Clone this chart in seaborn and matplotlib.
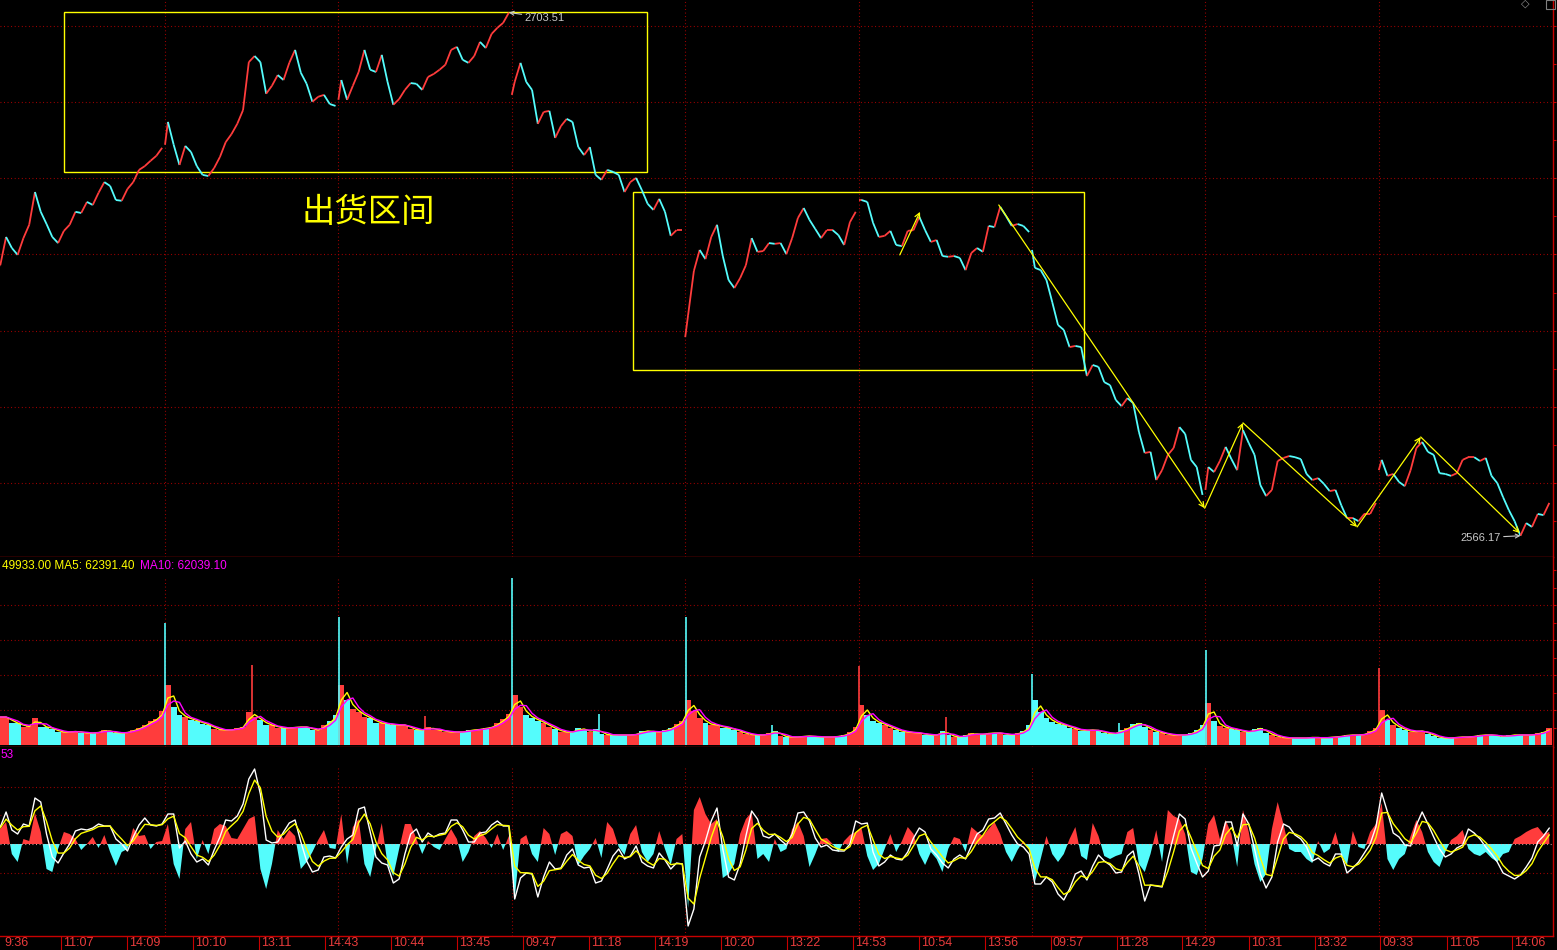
import matplotlib
matplotlib.use("Agg")
import numpy as np
import pandas as pd
import matplotlib.pyplot as plt
import matplotlib.transforms as mtransforms
from matplotlib.collections import LineCollection
from matplotlib.patches import Rectangle
import seaborn as sns

# 8-minute blocks, 30 blocks per session, 9 sessions
close = [
    2636.5, 2637.2, 2644.6, 2641.7, 2639.9, 2644.3, 2647.8, 2656.4, 2651.2, 2648.0,
    2644.6, 2643.0, 2646.2, 2647.8, 2651.2, 2650.9, 2653.8, 2653.0, 2656.2, 2659.0,
    2658.0, 2654.3, 2654.1, 2657.2, 2659.0, 2662.2, 2663.2, 2664.6, 2665.9, 2668.0,
    2674.8, 2668.8, 2663.5, 2668.5, 2666.9, 2663.2, 2660.9, 2660.6, 2662.7, 2665.6,
    2669.5, 2671.6, 2674.3, 2677.9, 2690.5, 2692.1, 2690.5, 2682.2, 2684.3, 2687.1,
    2685.8, 2690.3, 2693.7, 2687.7, 2684.8, 2680.1, 2681.4, 2681.9, 2679.5, 2679.0,
    2685.8, 2680.6, 2684.3, 2687.9, 2693.7, 2688.5, 2687.9, 2692.4, 2685.3, 2679.3,
    2680.8, 2683.2, 2685.0, 2684.8, 2683.2, 2686.6, 2687.4, 2688.5, 2689.8, 2693.7,
    2694.5, 2691.1, 2690.3, 2692.1, 2695.8, 2694.2, 2697.9, 2699.5, 2700.8, 2703.51,
    2685.3, 2690.3, 2685.3, 2683.2, 2674.3, 2677.4, 2677.7, 2670.6, 2673.7, 2675.6,
    2674.8, 2668.2, 2666.1, 2668.2, 2660.9, 2659.6, 2662.2, 2661.7, 2660.9, 2656.4,
    2659.0, 2660.1, 2656.9, 2653.3, 2651.7, 2654.6, 2651.2, 2644.9, 2646.4, 2646.4,
    2624.1, 2635.7, 2641.2, 2638.8, 2644.6, 2647.8, 2639.6, 2633.3, 2631.2, 2633.8,
    2637.2, 2644.3, 2640.7, 2640.9, 2643.0, 2642.8, 2643.0, 2640.1, 2644.3, 2649.6,
    2652.2, 2649.1, 2646.7, 2644.3, 2646.4, 2646.4, 2645.1, 2642.5, 2648.5, 2651.2,
    2654.3, 2653.8, 2648.3, 2644.6, 2644.9, 2646.2, 2642.5, 2642.2, 2646.2, 2646.4,
    2649.9, 2646.4, 2643.3, 2643.8, 2639.6, 2639.4, 2639.6, 2639.1, 2635.9, 2640.4,
    2641.7, 2640.7, 2647.5, 2647.2, 2652.5, 2650.1, 2647.5, 2648.0, 2647.5, 2645.9,
    2636.5, 2635.9, 2633.3, 2627.5, 2621.5, 2620.2, 2615.7, 2616.0, 2615.7, 2608.1,
    2611.0, 2610.5, 2606.5, 2605.7, 2601.8, 2600.2, 2602.3, 2601.0, 2593.4, 2587.9,
    2588.2, 2580.8, 2583.4, 2587.4, 2589.2, 2594.7, 2592.9, 2586.1, 2584.2, 2576.9,
    2584.2, 2582.9, 2585.8, 2589.5, 2586.3, 2583.4, 2593.9, 2590.5, 2587.4, 2579.5,
    2576.6, 2578.2, 2585.8, 2586.6, 2587.1, 2586.8, 2586.3, 2582.4, 2580.8, 2581.3,
    2579.8, 2577.9, 2578.2, 2574.2, 2570.8, 2570.8, 2570.0, 2571.9, 2571.9, 2574.8,
    2586.1, 2581.9, 2582.4, 2580.3, 2579.2, 2583.4, 2589.2, 2590.8, 2588.2, 2587.4,
    2582.6, 2582.4, 2581.9, 2582.6, 2586.1, 2586.8, 2586.8, 2585.8, 2586.6, 2581.9,
    2580.0, 2576.3, 2572.9, 2570.0, 2566.17, 2569.5, 2568.5, 2571.9, 2571.6, 2574.8,
]
session_open = [2636.0, 2668.8, 2680.6, 2681.9, 2618.3, 2654.3, 2641.2, 2578.2, 2583.4]

# volume, thousand lots per minute (block mean)
volume_k = [
    28, 28, 28, 22, 22, 18, 19, 27, 18, 18, 16, 13, 13, 13, 14, 12, 12, 12, 13, 15,
    13, 12, 12, 13, 15, 17, 20, 24, 26, 34,
    60, 38, 30, 28, 25, 24, 21, 20, 16, 15, 15, 15, 17, 18, 33, 28, 25, 20, 20, 17,
    17, 17, 18, 18, 18, 15, 15, 20, 24, 30,
    60, 45, 36, 33, 28, 27, 22, 22, 21, 20, 20, 20, 16, 15, 15, 18, 15, 15, 13, 13,
    13, 13, 15, 15, 16, 17, 18, 22, 26, 31,
    50, 38, 30, 27, 24, 22, 18, 16, 13, 13, 13, 17, 15, 13, 16, 11, 10, 10, 10, 10,
    10, 11, 14, 14, 13, 13, 15, 17, 21, 24,
    45, 34, 27, 22, 20, 20, 17, 17, 15, 13, 11, 10, 10, 10, 12, 14, 9, 8, 8, 8,
    9, 9, 8, 8, 8, 8, 9, 10, 13, 18,
    40, 30, 24, 22, 20, 17, 15, 13, 13, 12, 12, 10, 10, 10, 14, 10, 8, 8, 10, 12,
    10, 11, 12, 12, 12, 10, 10, 12, 14, 20,
    45, 33, 27, 23, 21, 20, 17, 16, 14, 15, 15, 14, 12, 11, 12, 15, 17, 21, 22, 18,
    15, 13, 12, 10, 10, 10, 10, 12, 15, 20,
    42, 24, 19, 17, 16, 15, 13, 13, 16, 17, 12, 10, 8, 7, 7, 7, 7, 7, 8, 7,
    7, 8, 8, 9, 10, 10, 10, 11, 14, 17,
    35, 25, 20, 17, 15, 13, 14, 14, 11, 9, 7, 7, 7, 8, 8, 8, 9, 10, 10, 10,
    9, 8, 10, 10, 10, 10, 10, 12, 13, 17,
]
open_spike_k = [0, 122, 128, 167, 128, 79, 71, 95, 77]
open_spike_up = [False, False, False, False, False, True, False, False, True]
pm_spike_k = [0, 80, 29, 31, 20, 28, 22, 0, 0]
pm_spike_up = [False, True, True, False, False, True, False, False, False]

macd_hist = [
    10, 15, 22, -10, -18, 5, 3, 31, 12, -25, -28, -5, 12, 10, 5, -6, 0, 7, -4, 9,
    -8, -22, -8, -5, 16, 8, 9, -5, 2, 3,
    20, -20, -35, 15, 22, -15, 4, -10, 15, 20, 18, 6, 5, 15, 25, 28, -25, -45, -20, 14,
    5, 14, 8, -25, -18, -8, 4, 14, -4, -5,
    30, -20, 17, 25, -20, -33, -5, 21, -20, -32, -5, 20, 20, 5, -10, 3, -3, -6, 5, 15,
    5, -18, -8, 8, 13, 6, -4, 10, -6, 8,
    -55, 5, 9, -10, -18, 16, 10, -11, 10, 13, 8, -21, -12, -5, 6, -14, 22, 15, -3, -11,
    10, 19, -8, -18, -10, 13, -5, -21, 5, 10,
    -64, 34, 47, 30, 20, 25, -34, -30, -20, 10, 25, 32, -15, -10, -18, 5, -8, -5, 15, 22,
    8, -23, -10, 5, 6, 0, -8, 3, 9, 12,
    16, -12, -26, -20, -5, 10, -8, 3, 17, 10, -10, -21, -8, -15, -28, -5, 7, 5, -8, 17,
    12, 8, 15, 22, 10, -8, -18, -6, 3, -5,
    -38, -15, 8, -10, -18, -10, 5, 17, -12, -16, 21, 8, -12, -15, -12, -10, 12, 16, -20, -28,
    -10, 14, -18, 34, 28, 25, 10, -28, -31, -15,
    20, 29, 5, 24, 10, -23, 34, 12, -20, -38, -30, 15, 42, 20, -5, -8, -8, -15, -19, 3,
    -9, -5, 12, -10, -21, 13, -3, -5, 12, 20,
    41, -15, -26, -15, -10, 8, 24, 12, -8, -18, -23, -8, 4, 8, 14, -5, -10, -12, -8, -14,
    -18, -10, -8, 5, 8, 12, 15, 17, 10, 12,
]
macd_dif = [
    15, 17, 32, 14, 10, 20, 18, 46, 42, 10, -13, -19, -9, 0, 13, 15, 14, 16, 20, 18,
    18, 5, 0, -7, 7, 19, 26, 19, 18, 20,
    30, 30, -4, 3, -10, -18, -15, -21, -6, 7, 24, 23, 28, 40, 65, 75, 50, 4, 1, 2,
    12, 21, 24, 2, -17, -28, -26, -13, -12, -14,
    -3, 5, 9, 35, 37, 12, -13, -19, -21, -39, -35, -10, 10, 15, 2, 11, 7, 10, 11, 24,
    24, 14, 2, 2, 11, 12, 19, 23, 18, 18,
    -55, -34, -29, -30, -53, -33, -18, -25, -24, -11, -5, -21, -24, -23, -39, -37, -25, -12, -5, -15,
    -12, -2, -18, -22, -24, -9, -16, -25, -19, -20,
    -82, -65, -13, 3, 23, 36, -5, -33, -36, -20, 8, 33, 25, 8, 6, 10, 4, -1, 10, 31,
    32, 23, 6, -3, -1, -6, -7, -7, 0, 23,
    20, 21, -8, -22, -18, -11, -15, -16, -8, 6, 16, 12, -5, -11, -19, -24, -15, -11, -15, -2,
    10, 14, 25, 26, 31, 20, 9, 0, -3, -10,
    -40, -40, -33, -38, -50, -56, -45, -30, -27, -36, -22, -11, -17, -21, -29, -28, -12, -7, -30, -57,
    -41, -42, -43, -15, 8, 30, 25, -4, -19, -33,
    -27, -2, -1, 22, 22, -2, 30, 20, -5, -30, -44, -33, 2, 20, 17, 9, 5, -3, -17, -14,
    -19, -22, -10, -10, -29, -24, -18, -9, 0, 17,
    51, 32, 11, 7, -1, -2, 19, 32, 20, 7, -5, -13, -10, -4, -1, 15, 11, 5, -3, -10,
    -18, -29, -32, -35, -31, -23, -14, 2, 8, 16,
]

tick_labels = ["9:36", "11:07", "14:09", "10:10", "13:11", "14:43", "10:44", "13:45",
               "09:47", "11:18", "14:19", "10:20", "13:22", "14:53", "10:54", "13:56",
               "09:57", "11:28", "14:29", "10:31", "13:32", "09:33", "11:05", "14:06"]
tick_days = [0, 0, 0, 1, 1, 1, 2, 2, 3, 3, 3, 4, 4, 4, 5, 5, 6, 6, 6, 7, 7, 8, 8, 8]

vol_text = "49933.00 MA5: 62391.40"
ma10_text = "MA10: 62039.10"
zone_text = "出货区间"

# hand drawn marks: (bar index start, end, price low, high) and zigzag vertices
box_1 = (100, 907, 2661.7, 2703.7)
box_2 = (888, 1512, 2609.7, 2656.4)
zigzag_t = [1394, 1679, 1732, 1890, 1978, 2115]
zigzag_p = [2653.0, 2573.4, 2595.8, 2568.5, 2592.1, 2566.9]
short_t = [1257, 1285]
short_p = [2639.9, 2651.2]

RED = "#ff3c3c"
CYAN = "#54fcfc"
YEL = "#ffff00"
MAG = "#ff00ff"
SEP = "#c80000"
GRID = "#b40000"
GRAY = "#c8c8c8"
DOT = (0, (0.8, 2.4))

sns.set_style("dark", {"axes.facecolor": "black", "figure.facecolor": "black"})
plt.rcParams["font.family"] = ["Liberation Sans", "Noto Sans CJK SC", "DejaVu Sans"]

BLOCK, SESSION, PER_DAY = 8, 240, 30
close = np.array(close)
n = len(close)
idx = np.arange(n)
t = idx * BLOCK + BLOCK / 2
day = idx // PER_DAY
first = idx % PER_DAY == 0
prev = np.r_[close[0], close[:-1]]
prev[first] = np.array(session_open)[day[first]]
start_x = np.where(first, day * SESSION, t - BLOCK)
up = close >= prev

W, H = 1557, 950
fig = plt.figure(figsize=(W / 100, H / 100), dpi=100)
fig.patch.set_facecolor("black")


def rect(top, bottom):
    return [0, 1 - bottom / H, 1553 / W, (bottom - top) / H]


ax = fig.add_axes(rect(0, 557))
axv = fig.add_axes(rect(557, 747))
axm = fig.add_axes(rect(747, 936))

for a in (ax, axv, axm):
    a.set_facecolor("black")
    a.grid(False)
    for s in a.spines.values():
        s.set_visible(False)
    for side in ("right", "bottom"):
        a.spines[side].set_visible(True)
        a.spines[side].set_color(SEP)
        a.spines[side].set_linewidth(1.0)
    a.tick_params(axis="x", bottom=False, labelbottom=False)
    a.yaxis.tick_right()
    a.tick_params(axis="y", colors=SEP, length=2.5, width=0.8, labelright=False)

# ---- price panel ----
segs = [[(sx, sy), (tx, ty)] for sx, sy, tx, ty in zip(start_x, prev, t, close)]
segs = segs[1:]
cols = [RED if u else CYAN for u in up][1:]
ax.add_collection(LineCollection(segs, colors=cols, linewidths=1.3))

for p in range(2580, 2701, 20):
    ax.axhline(p, color=GRID, lw=0.8, ls=DOT, zorder=0)
for d in range(1, 9):
    ax.axvline(d * SESSION, color=GRID, lw=0.8, ls=DOT, zorder=0)
ax.set_yticks(np.arange(2570, 2706, 10))

for x0, x1, lo, hi in (box_1, box_2):
    ax.add_patch(Rectangle((x0, lo), x1 - x0, hi - lo, fill=False, ec=YEL, lw=1.0))

arrow = dict(arrowstyle="->", color=YEL, lw=0.9, shrinkA=0, shrinkB=0, mutation_scale=9)
for tt, pp in ((zigzag_t, zigzag_p), (short_t, short_p)):
    for k in range(len(tt) - 1):
        ax.annotate("", xy=(tt[k + 1], pp[k + 1]), xytext=(tt[k], pp[k]), arrowprops=arrow)

ax.text(521, 2650.9, zone_text, color=YEL, fontsize=24, ha="center", va="center",
        family=["Noto Sans CJK SC", "DejaVu Sans"])

imax, imin = int(np.argmax(close)), int(np.argmin(close))
gray_arrow = dict(arrowstyle="->", color=GRAY, lw=0.8, shrinkA=0, shrinkB=0, mutation_scale=7)
ax.annotate(f"{close[imax]:.2f}", xy=(t[imax], close[imax]), xytext=(11.5, -3.6),
            textcoords="offset points", color=GRAY, fontsize=8, ha="left", va="center",
            arrowprops=gray_arrow)
ax.annotate(f"{close[imin]:.2f}", xy=(t[imin], close[imin]), xytext=(-14.4, -1.4),
            textcoords="offset points", color=GRAY, fontsize=8, ha="right", va="center",
            arrowprops=gray_arrow)

ax.set_ylim(2560.6, 2706.8)

# ---- volume panel ----
vol = pd.Series(volume_k, dtype=float)
vcols = [RED if u else CYAN for u in up]
axv.bar(t, vol, width=BLOCK, color=vcols, linewidth=0)
for d in range(1, 9):
    axv.vlines(d * SESSION + 0.5, 0, open_spike_k[d], colors=RED if open_spike_up[d] else CYAN, lw=1.2)
    if pm_spike_k[d]:
        axv.vlines(d * SESSION + 120.5, 0, pm_spike_k[d], colors=RED if pm_spike_up[d] else CYAN, lw=1.2)
ma5 = vol.rolling(2, min_periods=1).mean()
ma10 = vol.rolling(3, min_periods=1).mean()
sns.lineplot(x=t, y=ma5.values, ax=axv, color=YEL, lw=1.0, estimator=None)
sns.lineplot(x=t, y=ma10.values, ax=axv, color=MAG, lw=1.0, estimator=None)
for v in (35, 70, 105, 140):
    axv.axhline(v, color=GRID, lw=0.8, ls=DOT, zorder=0)
for d in range(1, 9):
    axv.axvline(d * SESSION, ymin=0, ymax=0.889, color=GRID, lw=0.8, ls=DOT, zorder=0)
axv.set_yticks(np.arange(17.5, 188, 17.5))
axv.set_ylim(-2, 188)

# ---- indicator panel ----
hist = np.array(macd_hist, dtype=float)
dif = pd.Series(macd_dif, dtype=float)
dea = dif.ewm(alpha=0.55, adjust=False).mean()
axm.fill_between(t, 0, hist, where=hist >= 0, interpolate=True, color=RED, lw=0)
axm.fill_between(t, 0, hist, where=hist <= 0, interpolate=True, color=CYAN, lw=0)
sns.lineplot(x=t, y=dif.values, ax=axm, color="white", lw=1.0, estimator=None)
sns.lineplot(x=t, y=dea.values, ax=axm, color=YEL, lw=1.0, estimator=None)
step = 28.7
for v in (2 * step, step, -step):
    axm.axhline(v, color=GRID, lw=0.8, ls=DOT, zorder=0)
axm.axhline(0, color="#e0b0b0", lw=0.8, ls=DOT, zorder=3)
for d in range(1, 9):
    axm.axvline(d * SESSION, ymin=0, ymax=0.894, color=GRID, lw=0.8, ls=DOT, zorder=0)
axm.set_yticks([])
axm.set_ylim(-92, 97)

for a in (ax, axv, axm):
    a.set_xlim(11.6, 2161.1)
    a.set_xlabel("")
    a.set_ylabel("")


def bar_index(d, hhmm):
    h, m = map(int, hhmm.split(":"))
    mins = h * 60 + m
    k = mins - (9 * 60 + 31) if mins <= 11 * 60 + 30 else 120 + mins - (13 * 60 + 1)
    return d * SESSION + k


trans = mtransforms.blended_transform_factory(axm.transData, fig.transFigure)
shift = mtransforms.ScaledTranslation(0.02, 0, fig.dpi_scale_trans)
for d, lab in zip(tick_days, tick_labels):
    p = bar_index(d, lab)
    axm.plot([p, p], [1 - 936 / H, 0], transform=trans, color=SEP, lw=0.8, clip_on=False)
    axm.text(max(p, 15), 1 - 943.5 / H, lab, transform=trans + shift, color="#e83c3c", fontsize=9,
             ha="left", va="center", clip_on=False)

t1 = fig.text(2 / W, 1 - 566 / H, vol_text, color=YEL, fontsize=8.5, ha="left", va="center")
fig.canvas.draw()
bb = t1.get_window_extent(fig.canvas.get_renderer())
fig.text((bb.x1 + 6) / W, 1 - 566 / H, ma10_text, color=MAG, fontsize=8.5, ha="left", va="center")
fig.text(0, 1 - 755 / H, "53", color=MAG, fontsize=8.5, ha="left", va="center")

fig.text(1525 / W, 1 - 4 / H, "◇", color="#909090", fontsize=8, ha="center", va="center",
         family="DejaVu Sans")
fig.patches.append(Rectangle((1546 / W, 1 - 9 / H), 9 / W, 9 / H, transform=fig.transFigure,
                             fill=False, ec="#808080", lw=0.8))

fig.savefig("out.png", dpi=100, facecolor="black")
